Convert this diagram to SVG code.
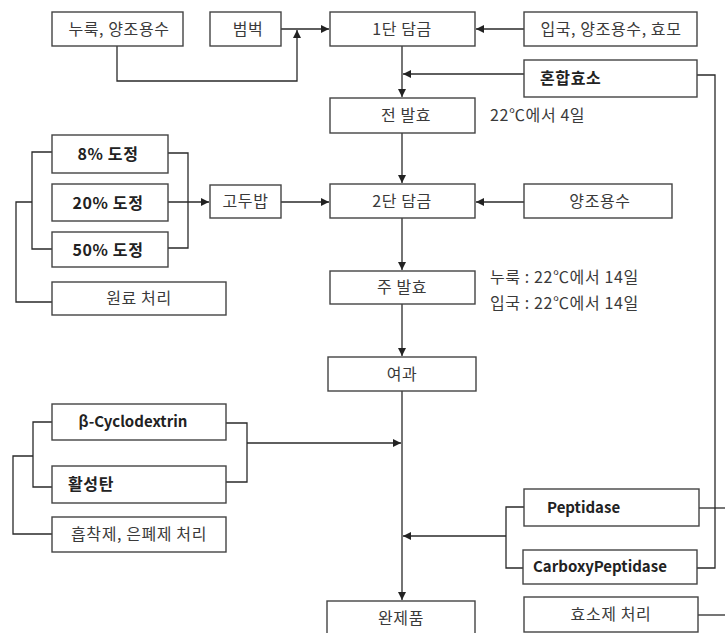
<svg xmlns="http://www.w3.org/2000/svg" width="725" height="633" viewBox="0 0 725 633">
<defs>
<style>
.box{fill:#fff;stroke:#444;stroke-width:1.4}
.ln{fill:none;stroke:#2a2a2a;stroke-width:1.3}
.t{font-family:"Noto Sans CJK KR","Noto Sans",sans-serif;font-size:16px;letter-spacing:0.6px;fill:#3a3a3a;text-anchor:middle}
.b{font-weight:bold;fill:#222}
.s{text-anchor:start}
.l{font-size:15px;letter-spacing:0}
</style>
<marker id="ah" viewBox="0 0 10 10" refX="10" refY="5" markerWidth="8" markerHeight="8" markerUnits="userSpaceOnUse" orient="auto">
<path d="M0,0 L10,5 L0,10 z" fill="#222"/>
</marker>
</defs>
<rect width="725" height="633" fill="#fff"/>

<g id="connectors">
<path class="ln" d="M281,29 H329" marker-end="url(#ah)"/>
<path class="ln" d="M117,46 V81 H297 V30" marker-end="url(#ah)"/>
<path class="ln" d="M524,29 H476" marker-end="url(#ah)"/>
<path class="ln" d="M524,74 H403" marker-end="url(#ah)"/>
<path class="ln" d="M402,46 V97" marker-end="url(#ah)"/>
<path class="ln" d="M402,133 V183" marker-end="url(#ah)"/>
<path class="ln" d="M524,202 H476" marker-end="url(#ah)"/>
<path class="ln" d="M402,218 V270" marker-end="url(#ah)"/>
<path class="ln" d="M402,304 V356" marker-end="url(#ah)"/>
<path class="ln" d="M402,391 V600" marker-end="url(#ah)"/>
<path class="ln" d="M52,152 H32 V249 H52"/>
<path class="ln" d="M32,202 H16 V302 H52"/>
<path class="ln" d="M168,153 H188 V248 H168"/>
<path class="ln" d="M168,202 H209" marker-end="url(#ah)"/>
<path class="ln" d="M281,202 H329" marker-end="url(#ah)"/>
<path class="ln" d="M52,422 H33 V487 H52"/>
<path class="ln" d="M33,456 H13 V534 H52"/>
<path class="ln" d="M226,423 H247 V482 H226"/>
<path class="ln" d="M247,443 H401" marker-end="url(#ah)"/>
<path class="ln" d="M697,75 H715 V568 H697"/>
<path class="ln" d="M699,508 H725"/>
<path class="ln" d="M697,615 H725"/>
<path class="ln" d="M524,507 H506 V568 H523"/>
<path class="ln" d="M506,536 H403" marker-end="url(#ah)"/>
</g>

<g id="n-nuruk"><rect class="box" x="52" y="12" width="131" height="34"/><text class="t" x="119" y="35">누룩, 양조용수</text></g>
<g id="n-beombeok"><rect class="box" x="210" y="12" width="71" height="34"/><text class="t" x="248" y="35">범벅</text></g>
<g id="n-step1"><rect class="box" x="330" y="12" width="145" height="34"/><text class="t" x="402" y="35">1단 담금</text></g>
<g id="n-ipguk"><rect class="box" x="524" y="12" width="173" height="34"/><text class="t" x="611" y="35">입국, 양조용수, 효모</text></g>
<g id="n-mix"><rect class="box" x="524" y="60" width="173" height="37"/><text class="t b s" x="540" y="84">혼합효소</text></g>
<g id="n-pre"><rect class="box" x="330" y="98" width="145" height="35"/><text class="t" x="406" y="121">전 발효</text></g>
<text class="t s" x="490" y="121">22℃에서 4일</text>

<g id="n-8"><rect class="box" x="52" y="135" width="116" height="38"/><text class="t b" x="108" y="160">8% 도정</text></g>
<g id="n-20"><rect class="box" x="52" y="184" width="116" height="37"/><text class="t b" x="108" y="209">20% 도정</text></g>
<g id="n-50"><rect class="box" x="52" y="232" width="116" height="35"/><text class="t b" x="108" y="256">50% 도정</text></g>
<g id="n-raw"><rect class="box" x="52" y="282" width="174" height="33"/><text class="t" x="139" y="304">원료 처리</text></g>
<g id="n-godu"><rect class="box" x="210" y="185" width="71" height="33"/><text class="t" x="245.5" y="207">고두밥</text></g>
<g id="n-step2"><rect class="box" x="330" y="184" width="145" height="34"/><text class="t" x="402" y="207">2단 담금</text></g>
<g id="n-water"><rect class="box" x="524" y="184" width="148" height="34"/><text class="t" x="600" y="207">양조용수</text></g>
<g id="n-main"><rect class="box" x="330" y="271" width="145" height="33"/><text class="t" x="402" y="293">주 발효</text></g>
<text class="t s" x="490" y="283">누룩 : 22℃에서 14일</text>
<text class="t s" x="490" y="309">입국 : 22℃에서 14일</text>
<g id="n-filter"><rect class="box" x="328" y="357" width="148" height="34"/><text class="t" x="402" y="380">여과</text></g>

<g id="n-beta"><rect class="box" x="52" y="404" width="174" height="36"/><text class="t b l" x="133" y="427">β-Cyclodextrin</text></g>
<g id="n-carbon"><rect class="box" x="52" y="466" width="174" height="37"/><text class="t b s" x="68" y="490">활성탄</text></g>
<g id="n-adsorb"><rect class="box" x="52" y="517" width="174" height="35"/><text class="t" x="139" y="540">흡착제, 은폐제 처리</text></g>

<g id="n-pep"><rect class="box" x="524" y="489" width="175" height="37"/><text class="t b s l" x="547" y="513">Peptidase</text></g>
<g id="n-carboxy"><rect class="box" x="523" y="550" width="174" height="34"/><text class="t b s l" x="533" y="572">CarboxyPeptidase</text></g>
<g id="n-enzyme"><rect class="box" x="524" y="597" width="174" height="35"/><text class="t" x="611" y="620">효소제 처리</text></g>
<g id="n-final"><rect class="box" x="327" y="601" width="148" height="40"/><text class="t" x="401" y="624">완제품</text></g>
</svg>
